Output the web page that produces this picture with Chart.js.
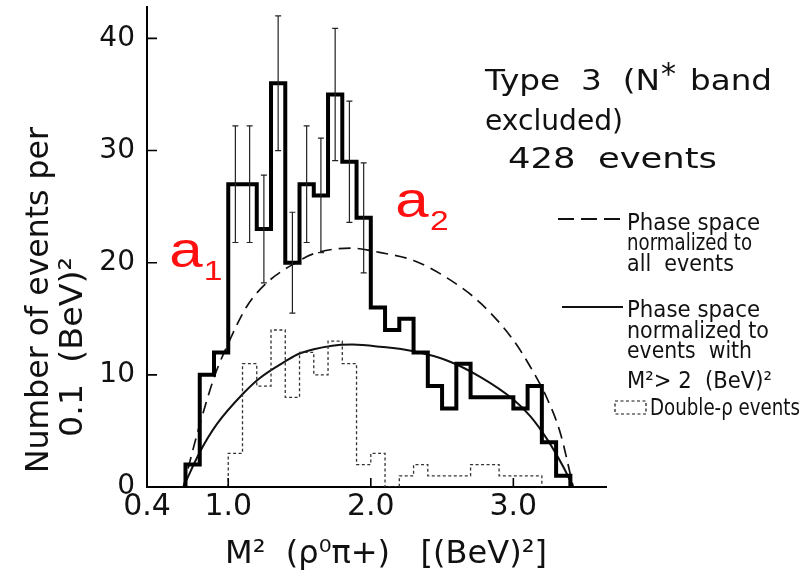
<!DOCTYPE html>
<html>
<head>
<meta charset="utf-8">
<script src="https://cdn.jsdelivr.net/npm/chart.js@4.4.1/dist/chart.umd.min.js"></script>
<style>
  html, body { margin: 0; padding: 0; background: #fff; }
  #wrap { width: 808px; height: 573px; }
</style>
</head>
<body>
<div id="wrap"><canvas id="myChart" width="808" height="573"></canvas></div>
<script>
// M^2(rho0 pi+) histogram, bins of 0.1 (BeV)^2, given by their left edge
const binLeft = [
  0.7, 0.8, 0.9, 1.0, 1.1, 1.2, 1.3, 1.4, 1.5, 1.6, 1.7, 1.8, 1.9, 2.0,
  2.1, 2.2, 2.3, 2.4, 2.5, 2.6, 2.7, 2.8, 2.9, 3.0, 3.1, 3.2, 3.3,
]
const binWidth = 0.1
const allEvents = [
  2, 10, 12, 27, 27, 23, 36, 20, 27, 26, 35, 29, 24, 16,
  14, 15, 12, 9, 7, 11, 8, 8, 8, 7, 9, 4, 1,
]
const doubleRho = [
  0, 0, 0, 3, 11, 9, 14, 8, 12, 10, 13, 11, 2, 3,
  0, 1, 2, 1, 1, 1, 2, 2, 1, 1, 1, 0, 0,
]
// statistical error bars, only drawn on the central bins
const allErrors = [
  null, null, null, 5.2, 5.2, 4.8, 6.0, 4.5, 5.2, 5.1, 5.9, 5.4, 4.9, null,
  null, null, null, null, null, null, null, null, null, null, null, null, null,
]

// phase space, normalized to all events (dashed)
const dashedX = [0.685, 0.79, 0.91, 1.0, 1.13, 1.27, 1.46, 1.6, 1.86, 2.07, 2.3, 2.54, 2.77, 3.0, 3.12, 3.24, 3.33, 3.42]
const dashedY = [0, 5.1, 10.1, 12.8, 16.1, 18.2, 19.9, 20.8, 21.3, 20.9, 20.2, 18.6, 16.4, 13.1, 10.7, 7.8, 4.8, 0]
// phase space, normalized to events with M^2 > 2 (solid)
const solidX = [0.685, 0.8, 0.92, 1.11, 1.22, 1.4, 1.5, 1.73, 1.87, 2.07, 2.3, 2.53, 2.77, 3.0, 3.12, 3.24, 3.35, 3.42]
const solidY = [0, 3.1, 5.6, 8.4, 9.7, 11.2, 11.9, 12.6, 12.7, 12.5, 12.1, 11.3, 9.8, 7.8, 6.3, 4.2, 1.8, 0]

const yTicks = [0, 10, 20, 30, 40]
// the drawn axis starts a bit right of 0.4, the first tick is labelled 0.4
const xTicks = [0.43, 1.0, 2.0, 3.0]
const xTickLabels = ['0.4', '1.0', '2.0', '3.0']

const FONT = '"DejaVu Sans"'
Chart.defaults.font.family = 'DejaVu Sans'
Chart.defaults.color = '#111'

// histogram outline as a closed step line
function outline(values) {
  const first = values.findIndex(v => v > 0)
  let last = values.length - 1
  while (last > first && values[last] === 0) last--
  const pts = [{ x: binLeft[first], y: 0 }]
  for (let i = first; i <= last; i++) {
    pts.push({ x: binLeft[i], y: values[i] })
    pts.push({ x: binLeft[i] + binWidth, y: values[i] })
  }
  pts.push({ x: binLeft[last] + binWidth, y: 0 })
  return pts
}

function curve(xs, ys) {
  return xs.map((x, i) => ({ x: x, y: ys[i] }))
}

// squeeze / stretch a line of text to the width it has in the figure
function fitText(ctx, text, x, y, width) {
  const natural = ctx.measureText(text).width
  ctx.save()
  ctx.translate(x, y)
  ctx.scale(width / natural, 1)
  ctx.fillText(text, 0, 0)
  ctx.restore()
}

const errorBars = {
  id: 'errorBars',
  afterDatasetsDraw(chart) {
    const { ctx, scales: { x, y } } = chart
    ctx.save()
    ctx.strokeStyle = '#222'
    ctx.lineWidth = 1.2
    ctx.beginPath()
    allErrors.forEach((err, i) => {
      if (err == null) return
      const px = x.getPixelForValue(binLeft[i] + binWidth / 2)
      const top = y.getPixelForValue(allEvents[i] + err)
      const bot = y.getPixelForValue(allEvents[i] - err)
      ctx.moveTo(px, top)
      ctx.lineTo(px, bot)
      ctx.moveTo(px - 3, top)
      ctx.lineTo(px + 3, top)
      ctx.moveTo(px - 3, bot)
      ctx.lineTo(px + 3, bot)
    })
    ctx.stroke()
    ctx.restore()
  },
}

// tick marks point into the plot
const innerTicks = {
  id: 'innerTicks',
  afterDraw(chart) {
    const { ctx, chartArea: a, scales: { x, y } } = chart
    ctx.save()
    ctx.strokeStyle = '#000'
    ctx.lineWidth = 1.6
    ctx.beginPath()
    yTicks.slice(1).forEach(v => {
      const py = y.getPixelForValue(v)
      ctx.moveTo(a.left, py)
      ctx.lineTo(a.left + 10, py)
    })
    xTicks.slice(1).forEach(v => {
      const px = x.getPixelForValue(v)
      ctx.moveTo(px, a.bottom)
      ctx.lineTo(px, a.bottom - 9)
    })
    ctx.stroke()
    ctx.restore()
  },
}

const figureText = {
  id: 'figureText',
  afterDraw(chart, args, opts) {
    const { ctx, scales: { x, y } } = chart
    ctx.save()
    ctx.fillStyle = '#111'
    ctx.textAlign = 'left'
    ctx.textBaseline = 'alphabetic'

    // axis titles
    ctx.font = `32px ${FONT}`
    fitText(ctx, 'M²  (ρ⁰π+)   [(BeV)²]', 225, 563, 322)
    ctx.save()
    ctx.translate(48, 473)
    ctx.rotate(-Math.PI / 2)
    fitText(ctx, 'Number of events per', 0, 0, 346)
    ctx.restore()
    ctx.save()
    ctx.translate(82, 437)
    ctx.rotate(-Math.PI / 2)
    fitText(ctx, '0.1  (BeV)²', 0, 0, 180)
    ctx.restore()

    // caption top right
    ctx.font = `28px ${FONT}`
    fitText(ctx, 'Type  3  (N', 485, 90, 175)
    fitText(ctx, 'band', 690, 90, 82)
    fitText(ctx, 'excluded)', 485, 130, 138)
    fitText(ctx, '428  events', 508, 168, 209)
    ctx.font = `30px ${FONT}`
    ctx.fillText('*', 661, 84)

    // legend
    ctx.font = `23px ${FONT}`
    opts.legendLines.forEach(([t, by, w]) => fitText(ctx, t, 627, by, w))
    fitText(ctx, 'Double-ρ events', 650, 415, 150)

    ctx.strokeStyle = '#111'
    ctx.lineWidth = 1.8
    ctx.setLineDash([16, 7])
    ctx.beginPath()
    ctx.moveTo(558, 219)
    ctx.lineTo(623, 219)
    ctx.stroke()
    ctx.setLineDash([])
    ctx.lineWidth = 2
    ctx.beginPath()
    ctx.moveTo(562, 307)
    ctx.lineTo(623, 307)
    ctx.stroke()
    ctx.lineWidth = 1.2
    ctx.setLineDash([3, 2.5])
    ctx.strokeRect(615, 401, 31, 13)
    ctx.setLineDash([])

    // resonance labels
    ctx.fillStyle = '#ff1010'
    opts.peaks.forEach(p => {
      ctx.save()
      ctx.translate(x.getPixelForValue(p.x), y.getPixelForValue(p.y))
      ctx.scale(1.2, 1)
      ctx.font = '50px "Liberation Sans"'
      ctx.fillText(p.name, 0, 0)
      const w = ctx.measureText(p.name).width
      ctx.font = '28px "Liberation Sans"'
      ctx.fillText(p.sub, w + 1, 13)
      ctx.restore()
    })
    ctx.restore()
  },
}

// keep the plot box exactly where the figure has it
function noLabelPadding(scale) {
  scale.paddingTop = 0
  scale.paddingBottom = 0
  scale.paddingLeft = 0
  scale.paddingRight = 0
}

const ctx = document.getElementById('myChart')

new Chart(ctx, {
  type: 'line',
  data: {
    datasets: [
      {
        label: 'All events',
        data: outline(allEvents),
        borderColor: '#000',
        borderWidth: 4,
        borderJoinStyle: 'miter',
        pointRadius: 0,
      },
      {
        label: 'Double-rho events',
        data: outline(doubleRho),
        borderColor: '#333',
        borderWidth: 1.3,
        borderDash: [3, 2.5],
        pointRadius: 0,
      },
      {
        label: 'Phase space normalized to all events',
        data: curve(dashedX, dashedY),
        borderColor: '#111',
        borderWidth: 1.7,
        borderDash: [12, 7],
        cubicInterpolationMode: 'monotone',
        pointRadius: 0,
      },
      {
        label: 'Phase space normalized to events with M2 > 2',
        data: curve(solidX, solidY),
        borderColor: '#111',
        borderWidth: 2,
        cubicInterpolationMode: 'monotone',
        pointRadius: 0,
      },
    ],
  },
  options: {
    responsive: false,
    animation: false,
    devicePixelRatio: 1,
    layout: { padding: { top: 7, right: 202, left: 0, bottom: 0 } },
    plugins: {
      legend: { display: false },
      tooltip: { enabled: false },
      figureText: {
        legendLines: [
          ['Phase space', 230, 133],
          ['normalized to', 250, 125],
          ['all  events', 271, 107],
          ['Phase space', 317, 133],
          ['normalized to', 338, 142],
          ['events  with', 358, 125],
          ['M²> 2  (BeV)²', 388, 145],
        ],
        peaks: [
          { name: 'a', sub: '1', x: 0.586, y: 19.6 },
          { name: 'a', sub: '2', x: 2.172, y: 24.1 },
        ],
      },
    },
    scales: {
      x: {
        type: 'linear',
        min: 0.43,
        max: 3.65,
        afterBuildTicks: scale => {
          scale.ticks = xTicks.map(v => ({ value: v }))
        },
        afterFit: scale => {
          scale.height = 86
          noLabelPadding(scale)
        },
        grid: { display: false, drawTicks: false },
        border: { display: true, color: '#000', width: 2 },
        ticks: {
          autoSkip: false,
          maxRotation: 0,
          padding: 2,
          font: { size: 30 },
          callback: (value, index) => xTickLabels[index],
        },
      },
      y: {
        min: 0,
        max: 42.8,
        afterBuildTicks: scale => {
          scale.ticks = yTicks.map(v => ({ value: v }))
        },
        afterFit: scale => {
          scale.width = 147
          noLabelPadding(scale)
        },
        grid: { display: false, drawTicks: false },
        border: { display: true, color: '#000', width: 2 },
        ticks: {
          padding: 12,
          font: { size: 28 },
        },
      },
    },
  },
  plugins: [errorBars, innerTicks, figureText],
})
</script>
</body>
</html>
